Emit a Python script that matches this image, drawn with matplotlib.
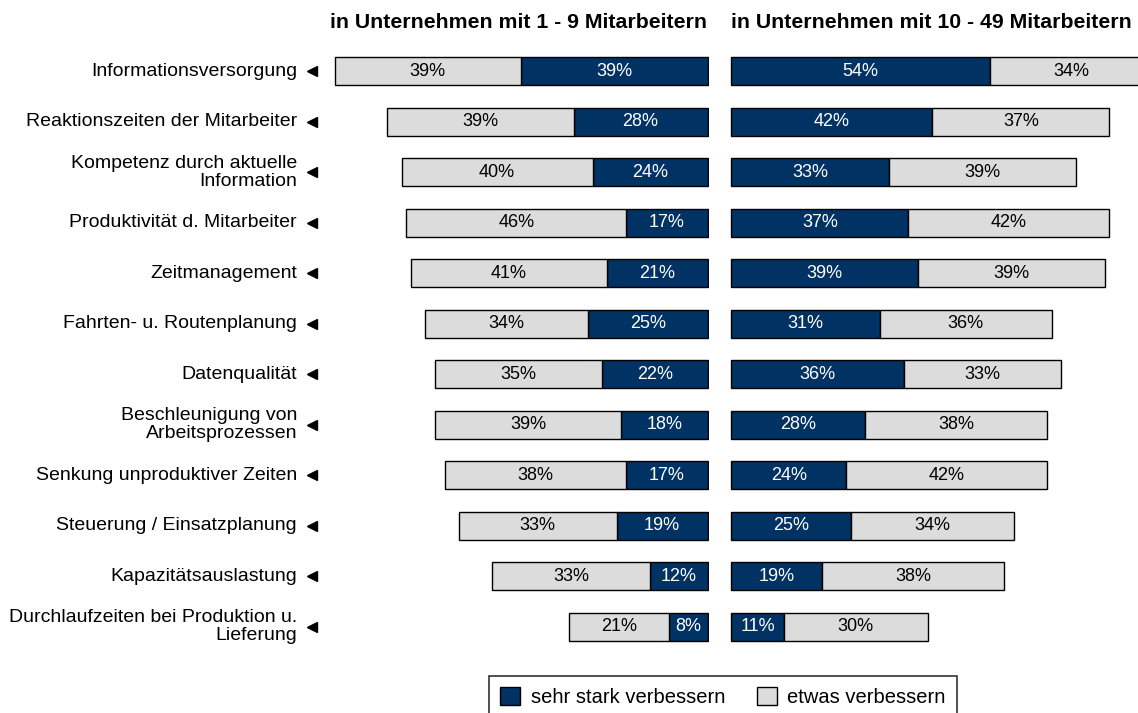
import numpy as np
import matplotlib
matplotlib.use("Agg")
import matplotlib.pyplot as plt
from matplotlib.patches import Patch
import matplotlib.transforms as mtransforms

plt.rcParams['font.family'] = ['Liberation Sans', 'DejaVu Sans']

# === DATEN ===
kategorien = [
    "Informationsversorgung",
    "Reaktionszeiten der Mitarbeiter",
    "Kompetenz durch aktuelle\nInformation",
    "Produktivität d. Mitarbeiter",
    "Zeitmanagement",
    "Fahrten- u. Routenplanung",
    "Datenqualität",
    "Beschleunigung von\nArbeitsprozessen",
    "Senkung unproduktiver Zeiten",
    "Steuerung / Einsatzplanung",
    "Kapazitätsauslastung",
    "Durchlaufzeiten bei Produktion u.\nLieferung",
]
# 1 - 9 Mitarbeiter
klein_stark = [39, 28, 24, 17, 21, 25, 22, 18, 17, 19, 12, 8]
klein_etwas = [39, 39, 40, 46, 41, 34, 35, 39, 38, 33, 33, 21]
# 10 - 49 Mitarbeiter
gross_stark = [54, 42, 33, 37, 39, 31, 36, 28, 24, 25, 19, 11]
gross_etwas = [34, 37, 39, 42, 39, 36, 33, 38, 42, 34, 38, 30]

titel_links = "in Unternehmen mit 1 - 9 Mitarbeitern"
titel_rechts = "in Unternehmen mit 10 - 49 Mitarbeitern"
legende = ["sehr stark verbessern", "etwas verbessern"]

blau = "#003263"
grau = "#dcdcdc"

W, H = 1138, 713
px = 4.8  # pixel pro prozent
fig = plt.figure(figsize=(W / 100, H / 100), dpi=100)

top_px, bot_px = 46, 652
ax_b = 1 - bot_px / H
ax_h = (bot_px - top_px) / H
links_r = 709
links_l = links_r - 80 * px
ax1 = fig.add_axes([links_l / W, ax_b, (links_r - links_l) / W, ax_h])
rechts_l = 730
ax2 = fig.add_axes([rechts_l / W, ax_b, (W - rechts_l) / W, ax_h])

y = np.arange(len(kategorien))
h = 0.56
ks = np.array(klein_stark)
ke = np.array(klein_etwas)
gs = np.array(gross_stark)
ge = np.array(gross_etwas)

# links: blau am rand zur mitte, grau nach links
ax1.barh(y, -ks, height=h, color=blau, edgecolor="black", linewidth=1)
ax1.barh(y, -ke, left=-ks, height=h, color=grau, edgecolor="black", linewidth=1)
ax1.set_xlim(-80, 0.3)

ax2.barh(y, gs, height=h, color=blau, edgecolor="black", linewidth=1)
ax2.barh(y, ge, left=gs, height=h, color=grau, edgecolor="black", linewidth=1)
ax2.set_xlim(-0.3, (W - rechts_l) / px)

for ax in (ax1, ax2):
    ax.set_ylim(len(kategorien) - 0.5, -0.5)
    ax.axis("off")

fs = 13
for i in y:
    ax1.text(-ks[i] / 2, i, f"{ks[i]}%", ha="center", va="center", color="white", fontsize=fs)
    ax1.text(-ks[i] - ke[i] / 2, i, f"{ke[i]}%", ha="center", va="center", color="black", fontsize=fs)
    ax2.text(gs[i] / 2, i, f"{gs[i]}%", ha="center", va="center", color="white", fontsize=fs)
    ax2.text(gs[i] + ge[i] / 2, i, f"{ge[i]}%", ha="center", va="center", color="black", fontsize=fs)

# kategorien + pfeile
trans = mtransforms.blended_transform_factory(fig.transFigure, ax1.transData)
for i, lab in enumerate(kategorien):
    fig.text(297 / W, i, lab, transform=trans, ha="right", va="center",
             fontsize=14, linespacing=1.1)
    ax1.plot([312 / W], [i], marker="<", color="black", markersize=7,
             transform=trans, clip_on=False)

fig.text(518 / W, 1 - 22 / H, titel_links, ha="center", va="center", fontsize=15.3, fontweight="bold")
fig.text(931 / W, 1 - 22 / H, titel_rechts, ha="center", va="center", fontsize=15.3, fontweight="bold")

handles = [Patch(facecolor=blau, edgecolor="black"), Patch(facecolor=grau, edgecolor="black")]
leg = fig.legend(handles, legende, loc="upper center", bbox_to_anchor=(723 / W, 1 - 676 / H),
                 ncol=2, frameon=True, fancybox=False, fontsize=14.5, borderpad=0.55,
                 handlelength=1.0, handleheight=1.0, handletextpad=0.5,
                 columnspacing=1.6, borderaxespad=0)
leg.get_frame().set_edgecolor("black")
leg.get_frame().set_linewidth(1.2)

fig.savefig("out.png", dpi=100)
